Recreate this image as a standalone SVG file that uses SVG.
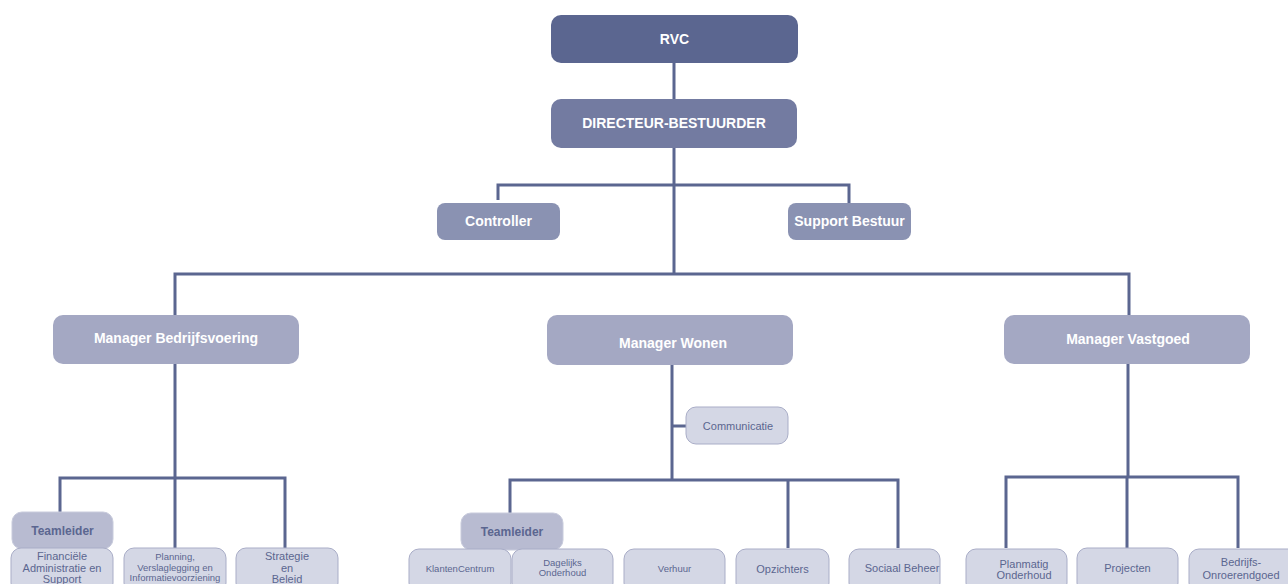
<svg xmlns="http://www.w3.org/2000/svg" width="1288" height="584" viewBox="0 0 1288 584">
<style>
text{font-family:"Liberation Sans",Arial,sans-serif;text-anchor:middle}
.w{fill:#fff;font-weight:bold;font-size:14px}
.tl{fill:#5b6690;font-weight:bold;font-size:12px}
.s{fill:#5b6690;font-size:11px}
.xs{fill:#5b6690;font-size:9.5px}
.c{fill:none;stroke:#5b6690;stroke-width:3}
.b1{fill:#5b6690}
.b2{fill:#737ba1}
.b3{fill:#8a92b2}
.b4{fill:#a4a8c3}
.b5{fill:#b8bbd1;stroke:#c8cbdc;stroke-width:1}
.b6{fill:#d4d7e5;stroke:#a9adc7;stroke-width:1}
</style>
<g id="connectors">
<path class="c" d="M674 63V99M674 148V274M498 200V185H849V203"/>
<path class="c" d="M175 315V274H1129V315"/>
<path class="c" d="M175 364V478M60 513V478H285V548M175 478V548"/>
<path class="c" d="M672 365V480M672 426H686M510 514V480H898V548M788 480V548"/>
<path class="c" d="M1128 364V477M1006 548V477H1238V548M1127 477V548"/>
</g>
<g id="rvc"><rect class="b1" x="551" y="15" width="247" height="48" rx="10"/><text class="w" x="674.5" y="44">RVC</text></g>
<g id="directeur"><rect class="b2" x="551" y="99" width="246" height="49" rx="10"/><text class="w" x="674" y="128">DIRECTEUR-BESTUURDER</text></g>
<g id="controller"><rect class="b3" x="437" y="203" width="123" height="37" rx="8"/><text class="w" x="498.5" y="226">Controller</text></g>
<g id="support-bestuur"><rect class="b3" x="788" y="203" width="123" height="37" rx="8"/><text class="w" x="849.5" y="226">Support Bestuur</text></g>
<g id="manager-bedrijfsvoering"><rect class="b4" x="53" y="315" width="246" height="49" rx="10"/><text class="w" x="176" y="343">Manager Bedrijfsvoering</text></g>
<g id="manager-wonen"><rect class="b4" x="547" y="315" width="246" height="50" rx="10"/><text class="w" x="673" y="348">Manager Wonen</text></g>
<g id="manager-vastgoed"><rect class="b4" x="1004" y="315" width="246" height="49" rx="10"/><text class="w" x="1128" y="344">Manager Vastgoed</text></g>
<g id="communicatie"><rect class="b6" x="686" y="407" width="102" height="37" rx="10"/><text class="s" x="738" y="430">Communicatie</text></g>
<g id="teamleider-1"><rect class="b5" x="12" y="512" width="101" height="37" rx="10"/><text class="tl" x="62.5" y="535">Teamleider</text></g>
<g id="financiele"><rect class="b6" x="11" y="548" width="102" height="45" rx="10"/><text class="s" x="62" y="560">Financiële</text><text class="s" x="62" y="572">Administratie en</text><text class="s" x="62" y="583">Support</text></g>
<g id="planning"><rect class="b6" x="124" y="548" width="102" height="45" rx="10"/><text class="xs" x="175" y="560">Planning,</text><text class="xs" x="175" y="571">Verslaglegging en</text><text class="xs" x="175" y="581">Informatievoorziening</text></g>
<g id="strategie"><rect class="b6" x="236" y="548" width="102" height="45" rx="10"/><text class="s" x="287" y="560">Strategie</text><text class="s" x="287" y="572">en</text><text class="s" x="287" y="583">Beleid</text></g>
<g id="teamleider-2"><rect class="b5" x="461" y="513" width="102" height="37" rx="10"/><text class="tl" x="512" y="536">Teamleider</text></g>
<g id="klantencentrum"><rect class="b6" x="409" y="549" width="102" height="44" rx="10"/><text class="xs" x="460" y="572">KlantenCentrum</text></g>
<g id="dagelijks-onderhoud"><rect class="b6" x="512" y="549" width="101" height="44" rx="10"/><text class="xs" x="562.5" y="566">Dagelijks</text><text class="xs" x="562.5" y="576">Onderhoud</text></g>
<g id="verhuur"><rect class="b6" x="624" y="549" width="101" height="44" rx="10"/><text class="xs" x="674.5" y="572">Verhuur</text></g>
<g id="opzichters"><rect class="b6" x="736" y="549" width="93" height="44" rx="10"/><text class="s" x="782.5" y="573">Opzichters</text></g>
<g id="sociaal-beheer"><rect class="b6" x="849" y="549" width="91" height="44" rx="10"/><text class="s" x="902" y="572">Sociaal Beheer</text></g>
<g id="planmatig-onderhoud"><rect class="b6" x="966" y="549" width="101" height="44" rx="10"/><text class="s" x="1024" y="568">Planmatig</text><text class="s" x="1024" y="579">Onderhoud</text></g>
<g id="projecten"><rect class="b6" x="1077" y="548" width="101" height="45" rx="10"/><text class="s" x="1127.5" y="572">Projecten</text></g>
<g id="bedrijfs-onroerendgoed"><rect class="b6" x="1189" y="549" width="110" height="44" rx="10"/><text class="s" x="1241" y="566">Bedrijfs-</text><text class="s" x="1241" y="579">Onroerendgoed</text></g>
</svg>
